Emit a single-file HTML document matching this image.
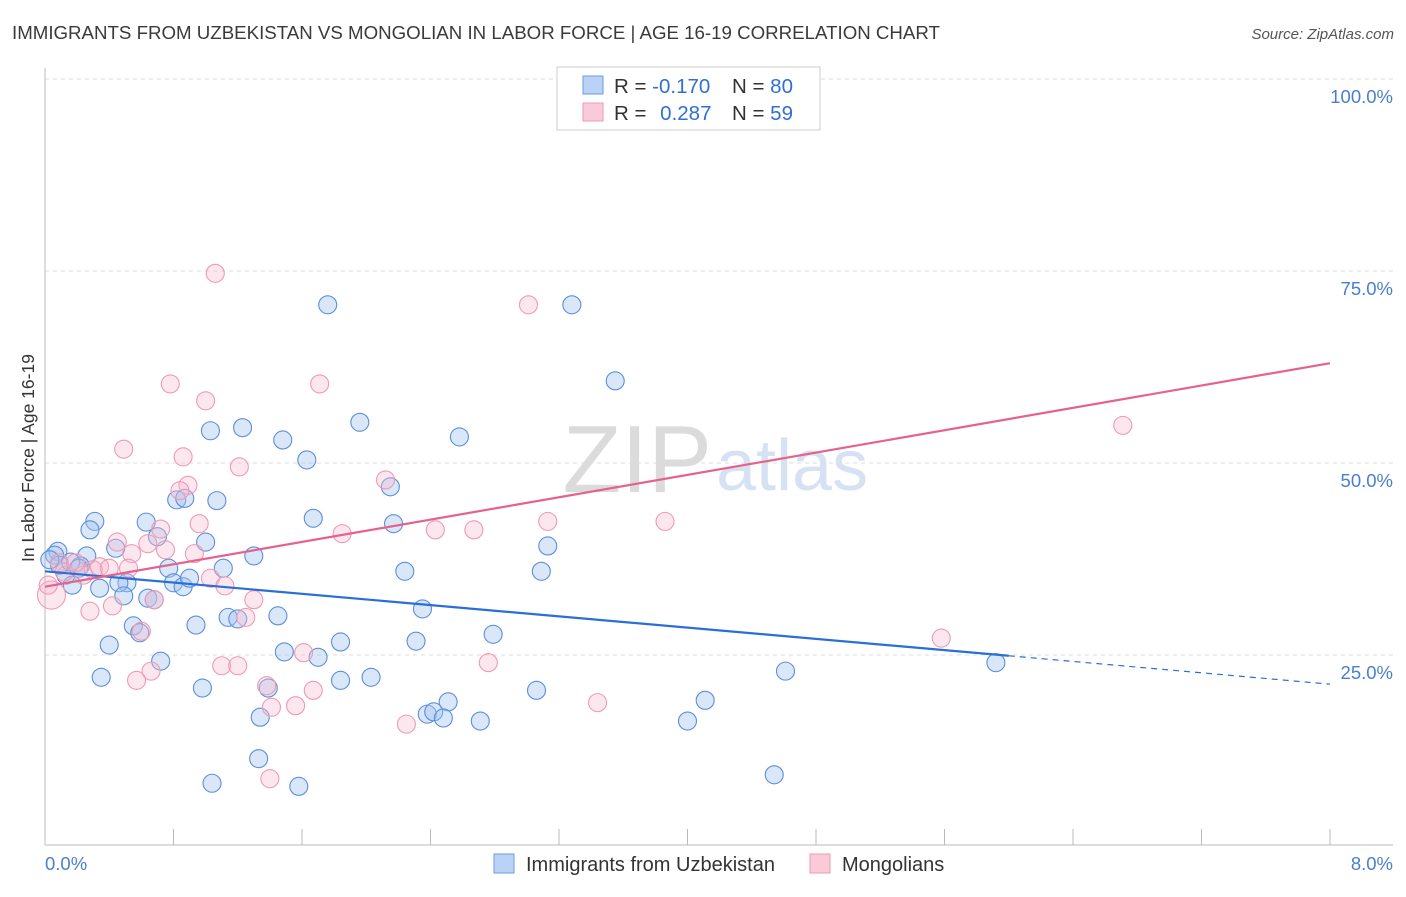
<!DOCTYPE html>
<html><head><meta charset="utf-8"><style>
body{margin:0;background:#fff;font-family:"Liberation Sans",sans-serif;}
svg text{font-family:"Liberation Sans",sans-serif;}
</style></head><body>
<svg id="chart" width="1406" height="892" viewBox="0 0 1406 892" xmlns="http://www.w3.org/2000/svg">
<text x="12" y="39" font-size="18.7" fill="#3a3a3a">IMMIGRANTS FROM UZBEKISTAN VS MONGOLIAN IN LABOR FORCE | AGE 16-19 CORRELATION CHART</text>
<text x="1394" y="39" font-size="15" fill="#555" font-style="italic" text-anchor="end">Source: ZipAtlas.com</text>
<g>
<text x="712" y="492" font-size="96" fill="#d0d0d0" font-family="Liberation Serif" text-anchor="end" opacity="0.75">ZIP</text>
<text x="716" y="490" font-size="72" fill="#c5d6ee" opacity="0.7">atlas</text>
</g>
<g id="grid"></g>
<g id="axes"></g>
<g id="marks"></g>
<g id="lines"></g>
<g>
<rect x="557" y="67" width="263" height="63" fill="#fff" stroke="#ccc"/>
<rect x="583" y="76" width="20" height="18" fill="#b9d2f5" stroke="#6f9be0"/>
<rect x="583" y="103" width="20" height="18" fill="#fbcad8" stroke="#ee9ab4"/>
<text x="614" y="93" font-size="20.5" fill="#333">R = <tspan fill="#2f6fd6">-0.170</tspan></text>
<text x="732" y="93" font-size="20.5" fill="#333">N = <tspan fill="#2f6fd6">80</tspan></text>
<text x="614" y="120" font-size="20.5" fill="#333">R = <tspan fill="#2f6fd6" dx="8">0.287</tspan></text>
<text x="732" y="120" font-size="20.5" fill="#333">N = <tspan fill="#2f6fd6">59</tspan></text>
</g>
<g>
<rect x="494" y="854" width="20" height="19" fill="#b9d2f5" stroke="#6f9be0"/>
<text x="526" y="871" font-size="20" fill="#333">Immigrants from Uzbekistan</text>
<rect x="810" y="854" width="20" height="19" fill="#fbcad8" stroke="#ee9ab4"/>
<text x="842" y="871" font-size="20" fill="#333">Mongolians</text>
</g>
<text transform="translate(34,458) rotate(-90)" font-size="17.5" fill="#333" text-anchor="middle">In Labor Force | Age 16-19</text>
<text x="45" y="870" font-size="18.5" fill="#4a7fd0">0.0%</text>
<text x="1393" y="870" font-size="18.5" fill="#4a7fd0" text-anchor="end">8.0%</text>
</svg>
<script>
const yTicks=[25,50,75,100];
const yTickLabels=["25.0%","50.0%","75.0%","100.0%"];
const xTicks=[0,0.8,1.6,2.4,3.2,4,4.8,5.6,6.4,7.2,8];
const blueX=[1.76,3.28,3.55,1.96,2.58,1.03,1.23,1.48,1.63,2.15,0.82,0.87,1.07,0.31,0.63,1.67,2.17,0.28,0.70,3.13,1.00,0.44,0.08,0.26,1.30,1.11,0.77,2.24,3.09,0.13,0.22,0.51,0.46,0.80,0.86,0.90,0.34,0.17,0.49,0.64,0.68,2.35,1.14,1.20,1.45,0.94,0.55,0.59,2.79,0.40,1.84,2.31,1.49,1.70,0.72,0.35,1.84,2.03,0.98,1.39,3.06,2.51,4.11,4.61,5.92,2.38,2.42,2.48,2.71,4.00,1.34,1.33,1.04,1.58,4.54,0.06,0.09,0.03,0.16,0.21];
const blueY=[70.6,70.6,60.7,55.3,53.4,54.2,54.6,53.0,50.4,46.9,45.2,45.4,45.1,42.4,42.3,42.8,42.1,41.3,40.4,39.2,39.7,38.9,38.5,37.9,37.9,36.3,36.3,35.9,35.9,35.4,36.6,34.4,34.4,34.4,33.9,35.0,33.7,34.1,32.7,32.4,32.2,31.0,29.9,29.7,30.1,28.9,28.8,27.9,27.7,26.3,26.7,26.8,25.4,24.7,24.2,22.1,21.7,22.1,20.7,20.7,20.4,18.9,19.1,22.9,24.0,17.3,17.6,16.8,16.4,16.4,16.9,11.5,8.3,7.9,9.4,38.0,36.7,37.4,37.1,36.3];
const pinkX=[1.06,3.01,0.78,1.71,1.00,0.49,0.86,1.21,6.71,2.12,0.89,0.84,0.72,0.96,3.13,3.86,2.43,2.67,1.85,0.45,0.64,0.75,0.54,0.93,0.09,0.34,0.40,0.52,0.30,1.03,1.12,0.24,0.12,1.30,0.68,0.42,0.28,1.25,0.60,1.61,5.58,2.76,1.10,1.20,0.66,0.57,1.38,1.67,1.41,1.56,3.44,2.25,1.40,0.04,0.02,0.19];
const pinkY=[74.7,70.6,60.3,60.3,58.1,51.8,50.8,49.5,54.9,47.8,47.1,46.4,41.4,42.1,42.4,42.4,41.3,41.3,40.8,39.7,39.5,38.7,38.2,38.2,37.0,36.5,36.3,36.3,36.1,35.0,34.0,35.4,35.8,32.2,32.2,31.4,30.7,29.9,28.1,25.3,27.2,24.0,23.6,23.6,22.9,21.7,21.0,20.4,18.2,18.4,18.8,16.0,8.9,32.8,34.1,37.0];
const blueTrend=[[0,35.9],[6.0,24.9],[8,21.2]];
const pinkTrend=[[0,33.9],[8,63.0]];
const X=v=>45+v/8*1285, Y=v=>847-v/100*768;
const NS="http://www.w3.org/2000/svg";
function mk(t,a,p){const e=document.createElementNS(NS,t);for(const k in a)e.setAttribute(k,a[k]);p.appendChild(e);return e;}
const grid=document.getElementById('grid'),axes=document.getElementById('axes'),marks=document.getElementById('marks'),lines=document.getElementById('lines');
yTicks.forEach((t,i)=>{
 const l=mk('line',{x1:45,x2:1393,y1:Y(t),y2:Y(t),stroke:'#ddd','stroke-dasharray':'4,4'},grid);
 
 
 const tx=mk('text',{x:1393,y:Y(t)+24,'font-size':18.5,fill:'#4a7fd0','text-anchor':'end'},axes);
 tx.textContent=yTickLabels[i];
 
 
});
const ax=mk('line',{x1:45,x2:1393,y1:845,y2:845,stroke:'#bbb'},axes);


const ay=mk('line',{x1:45,x2:45,y1:68,y2:845,stroke:'#bbb'},axes);


xTicks.forEach(t=>{
 const l=mk('line',{x1:X(t),x2:X(t),y1:829,y2:845,stroke:'#bbb'},axes);
 
 
});
blueX.forEach((v,i)=>{
 const c=mk('circle',{cx:X(v),cy:Y(blueY[i]),r:9,fill:'rgba(160,195,240,0.4)',stroke:'#5b8fdc','stroke-width':1.1},marks);
 
 
});
pinkX.forEach((v,i)=>{
 const c=mk('circle',{cx:X(v),cy:Y(pinkY[i]),r:i==53?14:9,fill:'rgba(248,185,205,0.35)',stroke:'#ee9ab4','stroke-width':1.1},marks);
 
 
});
const b1=mk('line',{x1:X(blueTrend[0][0]),y1:Y(blueTrend[0][1]),x2:X(blueTrend[1][0]),y2:Y(blueTrend[1][1]),stroke:'#2a6fd6','stroke-width':2.2},lines);


const b2=mk('line',{x1:X(blueTrend[1][0]),y1:Y(blueTrend[1][1]),x2:X(blueTrend[2][0]),y2:Y(blueTrend[2][1]),stroke:'#2a6fd6','stroke-width':1.2,'stroke-dasharray':'6,5'},lines);


const p1=mk('line',{x1:X(pinkTrend[0][0]),y1:Y(pinkTrend[0][1]),x2:X(pinkTrend[1][0]),y2:Y(pinkTrend[1][1]),stroke:'#e5628f','stroke-width':2.2},lines);


</script>
</body></html>
